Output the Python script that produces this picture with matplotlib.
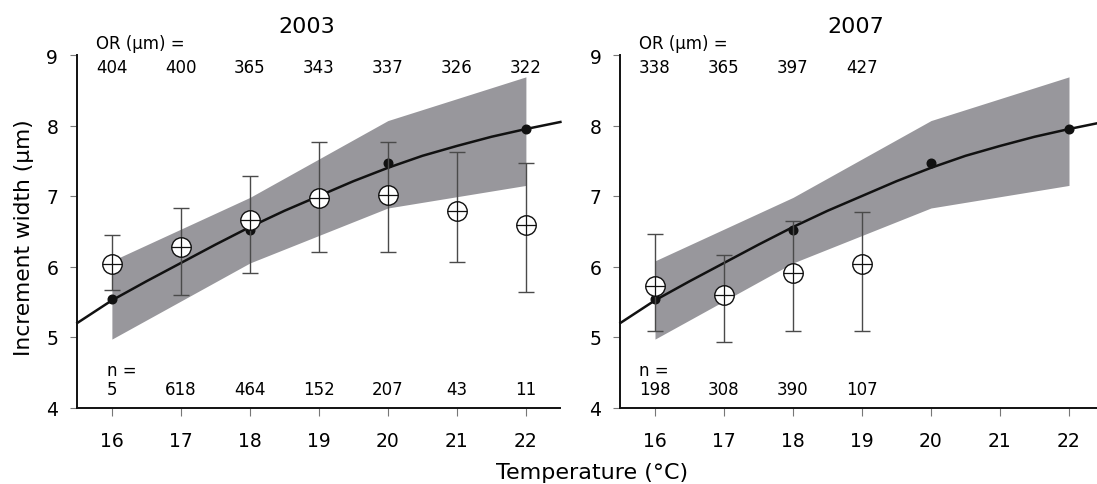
import matplotlib
matplotlib.use("Agg")
import matplotlib.pyplot as plt
import numpy as np

# ---- data ----
temps = [16, 17, 18, 19, 20, 21, 22]

# model curve
curve_x = [15.5, 16, 16.5, 17, 17.5, 18, 18.5, 19, 19.5, 20, 20.5, 21, 21.5, 22, 22.5]
curve_y = [5.20, 5.52, 5.79, 6.05, 6.31, 6.56, 6.79, 7.00, 7.21, 7.40, 7.57, 7.71, 7.84, 7.95, 8.05]

# model points
dot_x = [16, 18, 20, 22]
dot_y = [5.54, 6.52, 7.47, 7.95]

# grey band
band_x = [16, 18, 20, 22]
band_hi = [6.08, 6.98, 8.07, 8.69]
band_lo = [4.97, 6.05, 6.83, 7.15]

# 2003 observations
obs03_x = [16, 17, 18, 19, 20, 21, 22]
obs03_y = [6.04, 6.27, 6.66, 6.97, 7.02, 6.79, 6.59]
obs03_lo = [5.67, 5.60, 5.91, 6.21, 6.21, 6.06, 5.64]
obs03_hi = [6.45, 6.83, 7.29, 7.77, 7.77, 7.62, 7.47]
or03 = ["404", "400", "365", "343", "337", "326", "322"]
n03 = ["5", "618", "464", "152", "207", "43", "11"]

# 2007 observations
obs07_x = [16, 17, 18, 19]
obs07_y = [5.73, 5.60, 5.91, 6.04]
obs07_lo = [5.08, 4.93, 5.08, 5.08]
obs07_hi = [6.46, 6.17, 6.64, 6.78]
or07 = ["338", "365", "397", "427"]
n07 = ["198", "308", "390", "107"]

yticks = [4, 5, 6, 7, 8, 9]

plt.rcParams['font.family'] = ['DejaVu Sans']

W, H = 1097, 485
fig = plt.figure(figsize=(W / 100, H / 100), dpi=100)

xlim = (15.49, 22.50)
ax_h = (408.5 - 56) / H
ax_b = (H - 408.5) / H
ax_w = (560.4 - 76.7) / W
ax1 = fig.add_axes([76.7 / W, ax_b, ax_w, ax_h])
ax2 = fig.add_axes([619.8 / W, ax_b, ax_w, ax_h])

band_color = '#98979c'
err_color = '#4a4a4a'


def draw_panel(ax, ox, oy, olo, ohi, ors, ns, title, title_x):
    ax.fill_between(band_x, band_lo, band_hi, color=band_color, lw=0, zorder=1)
    ax.plot(curve_x, curve_y, color='#111111', lw=1.8, zorder=2, clip_on=False)
    ax.plot(dot_x, dot_y, 'o', color='#111111', ms=6.2, zorder=3, clip_on=False)
    oy_a = np.array(oy)
    yerr = [oy_a - np.array(olo), np.array(ohi) - oy_a]
    ax.errorbar(ox, oy, yerr=yerr, fmt='none', ecolor=err_color, elinewidth=1.0,
                capsize=6, capthick=1.0, zorder=4)
    ax.plot(ox, oy, 'o', ms=14, mfc='white', mec='#111111', mew=1.0, zorder=5)
    ax.plot(ox, oy, '+', ms=14, color='#111111', mew=0.9, zorder=6)

    ax.set_xlim(*xlim)
    ax.set_ylim(4, 9)
    ax.set_xticks(temps)
    ax.set_yticks(yticks)
    for s in ['top', 'right']:
        ax.spines[s].set_visible(False)
    for s in ['left', 'bottom']:
        ax.spines[s].set_linewidth(1.4)
        ax.spines[s].set_color('#111111')
    ax.tick_params(axis='x', direction='out', length=5.8, width=0.8, color='#777777',
                   labelsize=13.5, pad=11)
    ax.tick_params(axis='y', direction='out', length=5.3, width=0.8, color='#777777',
                   labelsize=13.5, pad=8)
    ax.patch.set_visible(False)

    or_texts = []
    for x, t in zip(ox, ors):
        or_texts.append(ax.text(x, 8.763, t, ha='center', va='baseline', fontsize=12))
    n_texts = []
    for x, t in zip(ox, ns):
        n_texts.append(ax.text(x, 4.19, t, ha='center', va='baseline', fontsize=12))
    ax.text(title_x, 9.33, title, ha='center', va='baseline', fontsize=16)
    return or_texts[0], n_texts[0]


f1 = draw_panel(ax1, obs03_x, obs03_y, obs03_lo, obs03_hi, or03, n03, "2003", 18.83)
f2 = draw_panel(ax2, obs07_x, obs07_y, obs07_lo, obs07_hi, or07, n07, "2007", 18.91)

fig.canvas.draw()
renderer = fig.canvas.get_renderer()
for ax, (t_or, t_n) in [(ax1, f1), (ax2, f2)]:
    inv = ax.transData.inverted()
    x_or = inv.transform((t_or.get_window_extent(renderer).x0, 0))[0]
    x_n = inv.transform((t_n.get_window_extent(renderer).x0, 0))[0]
    ax.text(x_or, 9.095, "OR (µm) =", ha='left', va='baseline', fontsize=12)
    ax.text(x_n, 4.465, "n =", ha='left', va='baseline', fontsize=12)

fig.text(24 / W, 1 - 237.5 / H, "Increment width (µm)", rotation=90,
         ha='center', va='center', fontsize=15.7)
fig.text(592.5 / W, (H - 479.3) / H, "Temperature (°C)", ha='center',
         va='baseline', fontsize=16)

fig.savefig("out.png", dpi=100)
